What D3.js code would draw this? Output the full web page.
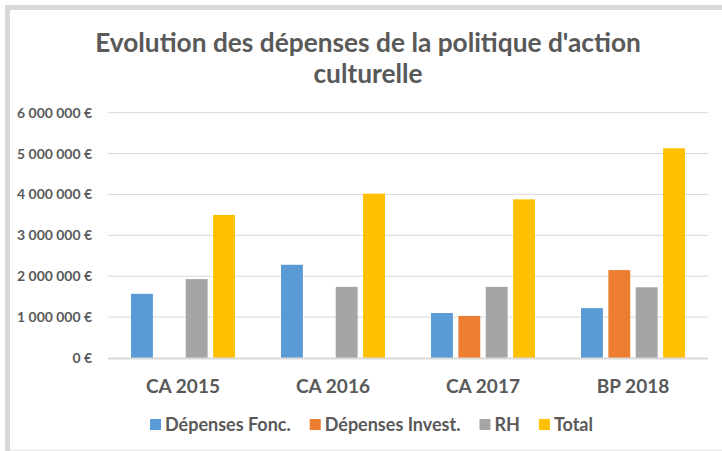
<!DOCTYPE html>
<html>
<head>
<meta charset="utf-8" />
<script src="https://cdn.jsdelivr.net/npm/d3@7"></script>
<style>
    body { margin: 0; background: #fff; }
    svg { display: block; }
    text { font-family: Lato, "Liberation Sans", sans-serif; font-weight: bold; fill: #595959; }
</style>
</head>
<body>
<script>
    var categories = ["CA 2015", "CA 2016", "CA 2017", "BP 2018"];
    var series = ["Dépenses Fonc.", "Dépenses Invest.", "RH", "Total"];
    var colors = ["#5b9bd5", "#ed7d31", "#a5a5a5", "#ffc000"];
    var fonc = [1570000, 2280000, 1100000, 1220000];
    var invest = [0, 0, 1030000, 2150000];
    var rh = [1930000, 1740000, 1740000, 1730000];
    var total = [3500000, 4020000, 3880000, 5130000];
    var yTicks = [0, 1000000, 2000000, 3000000, 4000000, 5000000, 6000000];
    var titleLines = ["Evolution des dépenses de la politique d'action", "culturelle"];

    var values = [fonc, invest, rh, total];
    var W = 722, H = 451;
    var plot = {left: 108, right: 708, top: 112.7, bottom: 358};

    var svg = d3.select("body").append("svg").attr("width", W).attr("height", H);

    // frame like the pasted excel chart
    svg.append("rect").attr("x", 5).attr("y", 5).attr("width", W - 5).attr("height", 5).attr("fill", "#d9d9d9");
    svg.append("rect").attr("x", 5).attr("y", 5).attr("width", 5).attr("height", H - 5).attr("fill", "#d9d9d9");
    svg.append("rect").attr("x", 10).attr("y", 449.5).attr("width", W - 10).attr("height", 1.5).attr("fill", "#ececec");

    // font size that makes a text of size fs reach a width
    function fitSize(str, fs, width) {
        var t = svg.append("text").attr("font-size", fs).text(str);
        var w = t.node().getComputedTextLength();
        t.remove();
        return fs * width / w;
    }

    var titleSize = fitSize(titleLines[0], 24, 546);
    svg.append("g").selectAll("text").data(titleLines).join("text")
        .attr("x", 368).attr("y", function(d, i) { return 52 + i * 31; })
        .attr("text-anchor", "middle").attr("font-size", titleSize).text(function(d) { return d; });

    var x = d3.scaleBand().domain(categories).range([plot.left, plot.right]);
    var x1 = d3.scaleBand().domain(series).range([0, 104]).paddingInner(0.2);
    var off = (x.bandwidth() - 104) / 2;
    var y = d3.scaleLinear().domain([0, 6000000]).range([plot.bottom, plot.top]);

    var fmt = function(v) { return d3.format(",")(v).replace(/,/g, " ") + " €"; };

    // grid
    svg.append("g").selectAll("line").data(yTicks.slice(1)).join("line")
        .attr("x1", plot.left).attr("x2", plot.right)
        .attr("y1", function(d) { return y(d); }).attr("y2", function(d) { return y(d); })
        .attr("stroke", "#d9d9d9").attr("stroke-width", 1);

    // y labels
    var ySize = fitSize(fmt(6000000), 13, 75);
    svg.append("g").selectAll("text").data(yTicks).join("text")
        .attr("x", 92).attr("y", function(d) { return y(d); }).attr("dy", "0.36em")
        .attr("text-anchor", "end").attr("font-size", ySize).text(fmt);

    // bars
    var groups = svg.append("g").selectAll("g").data(categories).join("g")
        .attr("transform", function(d) { return "translate(" + (x(d) + off) + ",0)"; });
    groups.selectAll("rect")
        .data(function(d, i) { return series.map(function(s, j) { return {s: s, j: j, v: values[j][i]}; }); })
        .join("rect")
        .filter(function(d) { return d.v > 0; })
        .attr("x", function(d) { return x1(d.s); })
        .attr("width", x1.bandwidth())
        .attr("y", function(d) { return y(d.v); })
        .attr("height", function(d) { return y(0) - y(d.v); })
        .attr("fill", function(d) { return colors[d.j]; });

    // baseline
    svg.append("line").attr("x1", plot.left).attr("x2", plot.right)
        .attr("y1", plot.bottom + 0.5).attr("y2", plot.bottom + 0.5)
        .attr("stroke", "#d9d9d9").attr("stroke-width", 2);

    // category labels
    var catSize = fitSize(categories[0], 18, 74);
    svg.append("g").selectAll("text").data(categories).join("text")
        .attr("x", function(d) { return x(d) + x.bandwidth() / 2; }).attr("y", 393)
        .attr("text-anchor", "middle").attr("font-size", catSize).text(function(d) { return d; });

    // legend
    var legSize = fitSize(series.join(""), 16, 443 - 4 * 15 - 3 * 19);
    var leg = svg.append("g");
    var lx = 0;
    series.forEach(function(s, i) {
        leg.append("rect").attr("x", lx).attr("y", 419).attr("width", 11).attr("height", 11).attr("fill", colors[i]);
        var t = leg.append("text").attr("x", lx + 15).attr("y", 430.5).attr("font-size", legSize).text(s);
        lx += 15 + t.node().getComputedTextLength() + 19;
    });
    lx -= 19;
    leg.attr("transform", "translate(" + (371.5 - lx / 2) + ",0)");
</script>
</body>
</html>
